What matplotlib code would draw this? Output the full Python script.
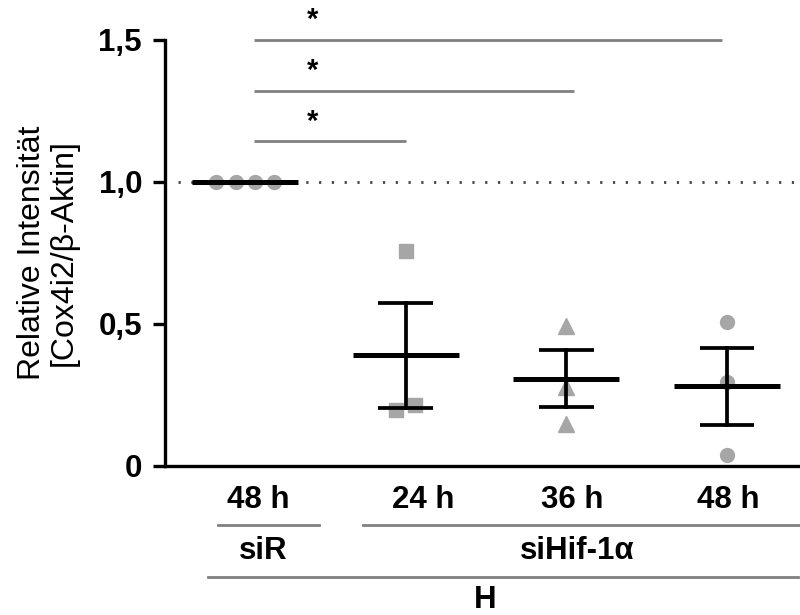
import numpy as np
import matplotlib
matplotlib.use("Agg")
import matplotlib.pyplot as plt
from matplotlib.transforms import blended_transform_factory

plt.rcParams['font.family'] = ['Liberation Sans', 'DejaVu Sans']

# ---- data ----
time_labels = ["48 h", "24 h", "36 h", "48 h"]
group_labels = ["siR", "siHif-1α"]
top_label = "H"
siR_48h = [1.0, 1.0, 1.0, 1.0]
siHif_24h = [0.757, 0.197, 0.215]
siHif_36h = [0.493, 0.279, 0.148]
siHif_48h = [0.508, 0.297, 0.039]
series = [siR_48h, siHif_24h, siHif_36h, siHif_48h]
markers = ["o", "s", "^", "o"]
jitter = [[-0.18, -0.06, 0.06, 0.18], [0.0, -0.06, 0.06], [0, 0, 0], [0, 0, 0]]
yticks = [0, 0.5, 1.0, 1.5]
yticklabels = ["0", "0,5", "1,0", "1,5"]
sig_pairs = [(0, 1), (0, 2), (0, 3)]
sig_levels = [1.143, 1.32, 1.5]
sig_text = "*"

fig = plt.figure(figsize=(8, 6.15), dpi=100)
ax = fig.add_axes([0.20625, 0.2423, 0.79375, 0.6927])
ax.set_xlim(-0.5, 3.456)
ax.set_ylim(0, 1.5)

gray = "#a6a6a6"
for i, vals in enumerate(series):
    xs = [i + j for j in jitter[i]]
    ax.plot(xs, vals, linestyle="none", marker=markers[i], color=gray,
            markersize=10 if markers[i] != "^" else 11, zorder=2, clip_on=False)
    m = np.mean(vals)
    sem = np.std(vals, ddof=1) / np.sqrt(len(vals))
    ax.plot([i - 0.33, i + 0.33], [m, m], color="black", lw=3.6, zorder=4,
            solid_capstyle="butt")
    if sem > 0:
        ax.plot([i, i], [m - sem, m + sem], color="black", lw=2.7, zorder=3)
        for yv in (m - sem, m + sem):
            ax.plot([i - 0.17, i + 0.17], [yv, yv], color="black", lw=2.7,
                    zorder=3, solid_capstyle="butt")

# dotted reference line at 1.0
ax.plot([-0.42, 3.456], [1.0, 1.0], color="#444444", lw=2.0,
        linestyle=(0, (0.8, 3.8)), zorder=1, clip_on=False)

# significance lines
for (a, b), lvl in zip(sig_pairs, sig_levels):
    x0 = a + 0.056
    x1 = b - 0.03 if b == 3 else b + (0.05 if b == 2 else 0.0)
    ax.plot([x0, x1], [lvl, lvl], color="#808080", lw=2.0, clip_on=False,
            solid_capstyle="butt")
    ax.text(a + 0.42, lvl + 0.02, sig_text, ha="center", va="bottom",
            fontsize=21, fontweight="bold", clip_on=False)

# axes styling
for s in ["top", "right"]:
    ax.spines[s].set_visible(False)
for s in ["left", "bottom"]:
    ax.spines[s].set_linewidth(2.4)
ax.set_yticks(yticks)
ax.set_yticklabels(yticklabels, fontsize=22.5, fontweight="bold")
ax.tick_params(axis="y", length=8.5, width=2.4, pad=8)
ax.set_xticks([])
ax.set_ylabel("Relative Intensität\n[Cox4i2/β-Aktin]", fontsize=23,
              linespacing=1.1, labelpad=14)

# category labels below the axis
tr = blended_transform_factory(ax.transData, fig.transFigure)
def fy(px):
    return (615 - px) / 615

fs = 22.5
time_x = [0.081, 1.109, 2.037, 3.009]
for x, lab in zip(time_x, time_labels):
    fig.text(x, fy(500), lab, transform=tr, ha="center", va="center",
             fontsize=fs, fontweight="bold")
# group brackets
lc = "#808080"
fig.add_artist(plt.Line2D([-0.168, 0.461], [fy(525), fy(525)], transform=tr,
                          color=lc, lw=2.0))
fig.add_artist(plt.Line2D([0.735, 3.456], [fy(525), fy(525)], transform=tr,
                          color=lc, lw=2.0))
fig.text(0.112, fy(551), group_labels[0], transform=tr, ha="center",
         va="center", fontsize=fs, fontweight="bold")
fig.text(2.07, fy(551), group_labels[1], transform=tr, ha="center",
         va="center", fontsize=fs, fontweight="bold")
fig.add_artist(plt.Line2D([-0.23, 3.445], [fy(577), fy(577)], transform=tr,
                          color=lc, lw=2.0))
fig.text(1.495, fy(600), top_label, transform=tr, ha="center", va="center",
         fontsize=fs, fontweight="bold")

fig.savefig("out.png", dpi=100)
